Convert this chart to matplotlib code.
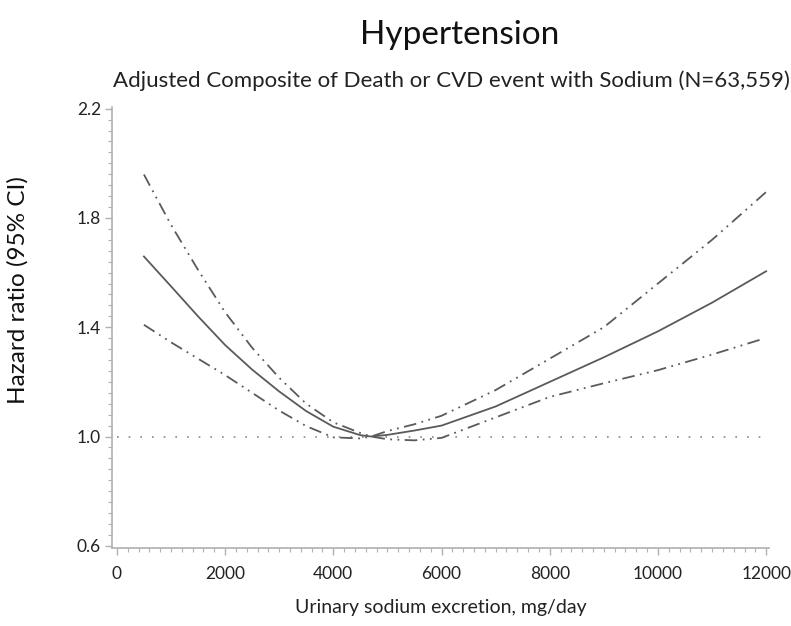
import numpy as np
import matplotlib
matplotlib.use("Agg")
import matplotlib.pyplot as plt
from matplotlib.ticker import MultipleLocator

plt.rcParams["font.family"] = ["Lato", "DejaVu Sans"]

# sodium excretion (mg/day)
sodium = [500, 1000, 1500, 2000, 2500, 3000, 3500, 4000, 4500, 4700,
          5000, 5500, 6000, 7000, 8000, 9000, 10000, 11000, 12000]
hr = [1.659, 1.55, 1.44, 1.335, 1.245, 1.165, 1.093, 1.036, 1.005, 1.0,
      1.006, 1.022, 1.04, 1.11, 1.20, 1.29, 1.385, 1.49, 1.605]
hr_upper = [1.959, 1.775, 1.61, 1.455, 1.325, 1.215, 1.12, 1.052, 1.013, 1.0,
            1.02, 1.045, 1.076, 1.17, 1.285, 1.40, 1.56, 1.72, 1.895]
sodium_lo = [500, 1000, 1500, 2000, 2500, 3000, 3500, 4000, 4500, 4700,
             5000, 5500, 6000, 7000, 8000, 9000, 10000, 11000, 11900]
hr_lower = [1.409, 1.345, 1.285, 1.225, 1.16, 1.095, 1.038, 0.997, 0.993, 1.0,
            0.99, 0.986, 0.995, 1.07, 1.145, 1.195, 1.243, 1.30, 1.355]
ref_x = [0, 12000]
ref_y = [1.0, 1.0]

line_col = "#5a5a5a"
axis_col = "#b0b0b0"
dashdotdot = (0, (7, 3, 1, 3, 1, 3))

fig = plt.figure(figsize=(7.91, 6.26), dpi=100)
ax = fig.add_axes([0.1416, 0.1246, 0.8304, 0.7044])

ax.plot(ref_x, ref_y, color="#888888", lw=1.2, linestyle=(0, (1, 6)))
ax.plot(sodium, hr, color=line_col, lw=1.3)
ax.plot(sodium, hr_upper, color=line_col, lw=1.3, linestyle=dashdotdot)
ax.plot(sodium_lo, hr_lower, color=line_col, lw=1.3, linestyle=dashdotdot)

ax.set_xlim(-90, 12050)
ax.set_ylim(0.592, 2.206)
ax.xaxis.set_major_locator(MultipleLocator(2000))
ax.xaxis.set_minor_locator(MultipleLocator(200))
ax.yaxis.set_minor_locator(MultipleLocator(0.04))
ax.set_yticks([0.6, 1.0, 1.4, 1.8, 2.2])
ax.set_yticklabels(["0.6", "1.0", "1.4", "1.8", "2.2"])

for s in ["top", "right"]:
    ax.spines[s].set_visible(False)
for s in ["left", "bottom"]:
    ax.spines[s].set_color(axis_col)
    ax.spines[s].set_linewidth(1.2)

ax.tick_params(which="major", direction="out", length=5, width=1, color=axis_col,
               labelsize=12.5, labelcolor="#222222")
ax.tick_params(which="minor", direction="out", length=3, width=0.8, color=axis_col)
ax.tick_params(axis="x", pad=8)
ax.tick_params(axis="y", pad=3)

ax.set_xlabel("Urinary sodium excretion, mg/day", fontsize=14, color="#222222", labelpad=12)
fig.text(0.023, 0.537, "Hazard ratio (95% CI)", rotation=90, ha="center", va="center",
         fontsize=17.5, color="#111111")

fig.text(0.581, 0.944, "Hypertension", ha="center", va="center", fontsize=24, color="#111111")
fig.text(0.571, 0.871, "Adjusted Composite of Death or CVD event with Sodium (N=63,559)",
         ha="center", va="center", fontsize=16, color="#222222")

fig.savefig("out.png", dpi=100)
